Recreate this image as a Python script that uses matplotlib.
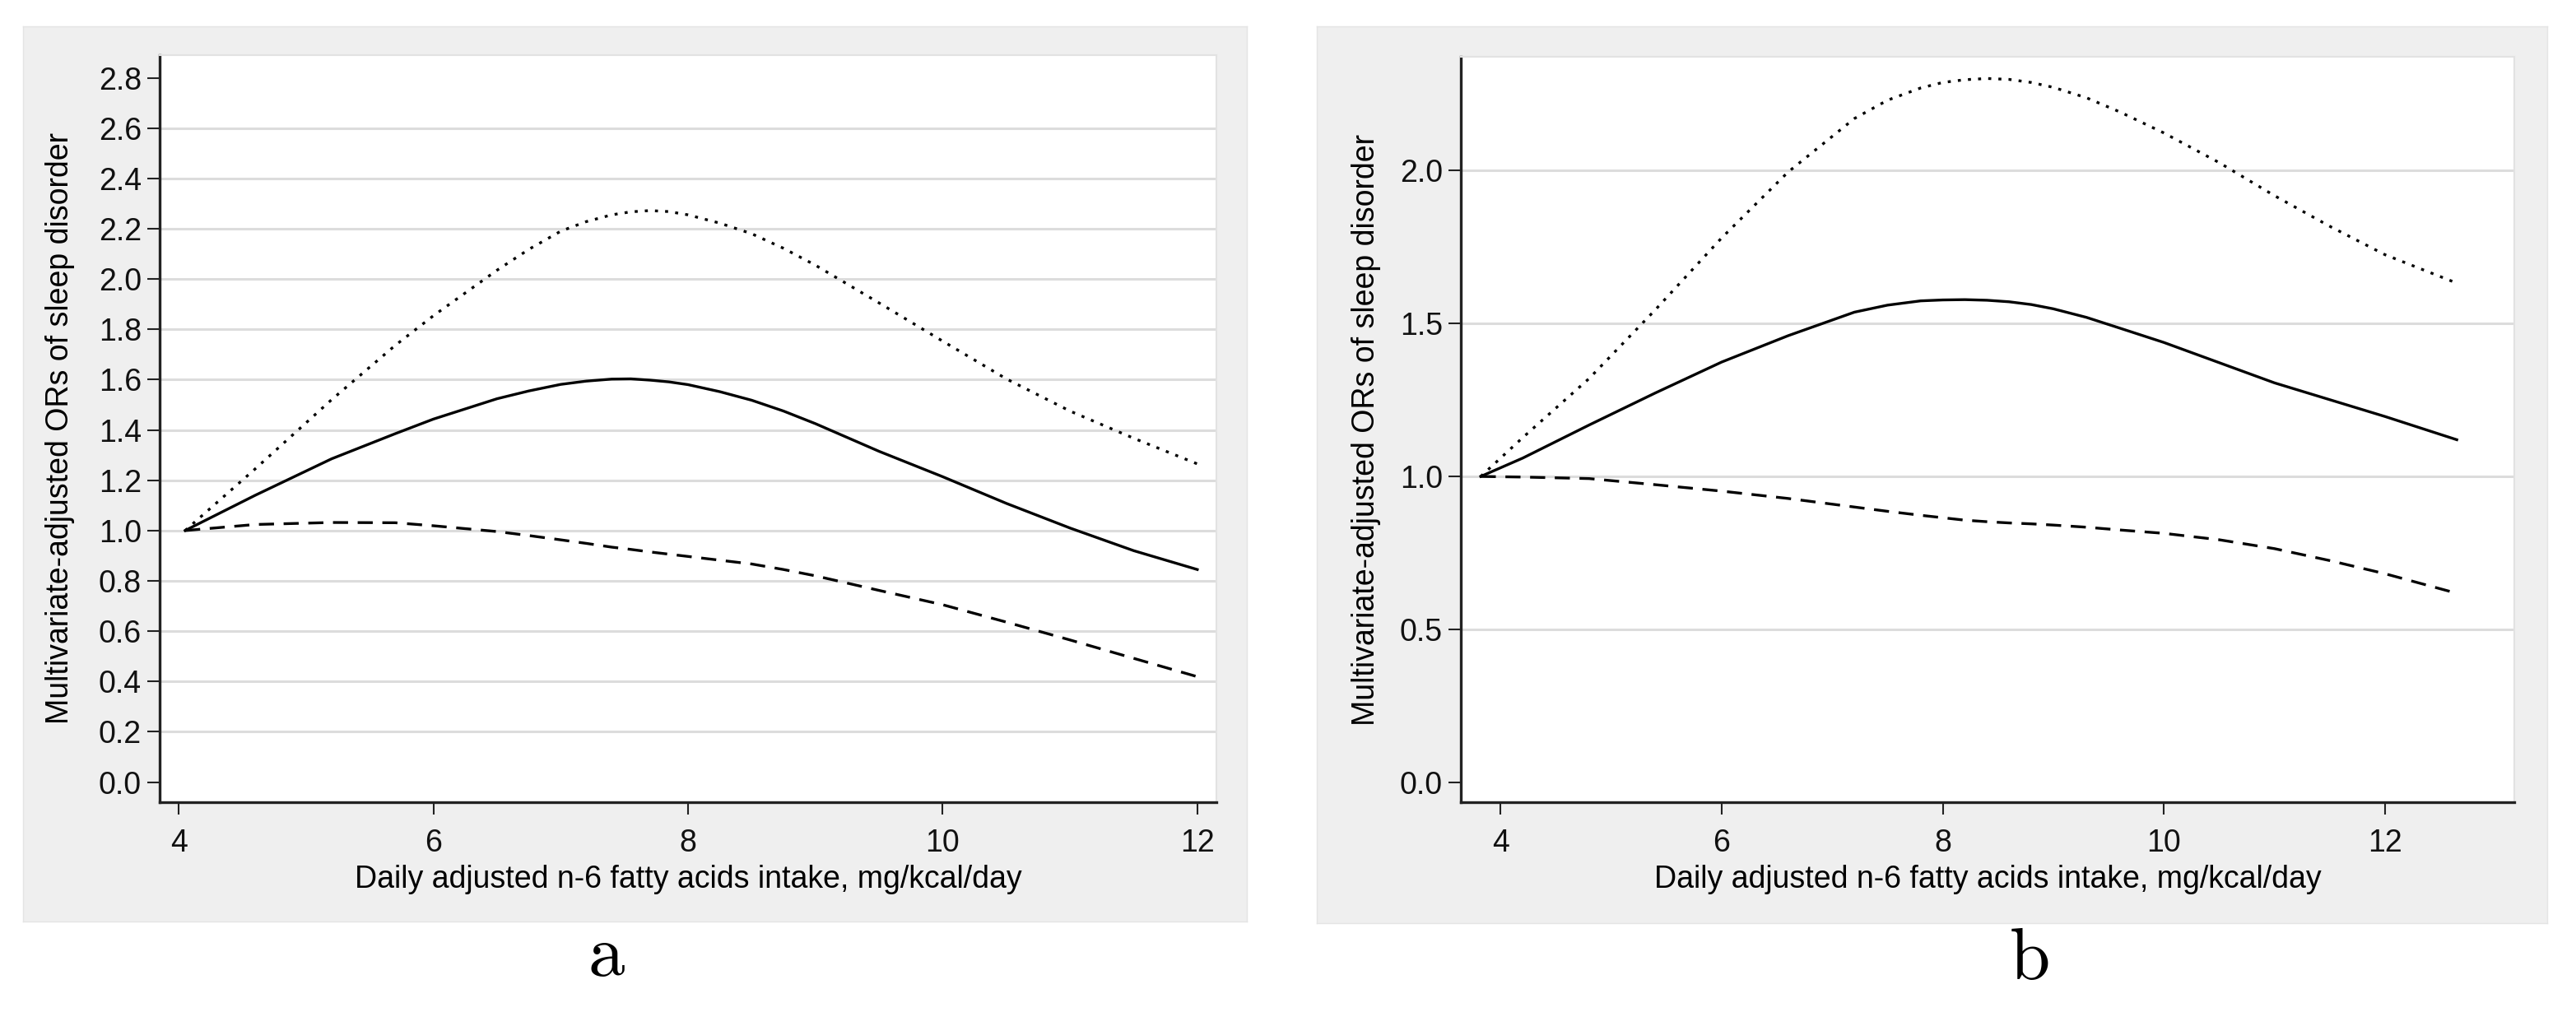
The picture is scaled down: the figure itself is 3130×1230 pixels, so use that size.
import matplotlib
matplotlib.use('Agg')
import matplotlib.pyplot as plt

# ── Data ─────────────────────────────────────────────────────────────────────
# panel a
A_X      = [4.05, 4.6, 5.2, 5.7, 6.0, 6.5, 6.75, 7.0, 7.2, 7.4, 7.55, 7.7, 7.85, 8.0,
            8.25, 8.5, 8.75, 9.0, 9.5, 10.0, 10.5, 11.0, 11.5, 12.0]
A_OR     = [1.000, 1.140, 1.285, 1.385, 1.443, 1.524, 1.555, 1.581, 1.594, 1.602, 1.603, 1.598,
            1.591, 1.580, 1.552, 1.518, 1.475, 1.425, 1.315, 1.214, 1.108, 1.010, 0.920, 0.845]
A_UPPER  = [1.000, 1.245, 1.520, 1.736, 1.854, 2.035, 2.118, 2.190, 2.228, 2.255, 2.267, 2.272,
            2.268, 2.255, 2.222, 2.180, 2.122, 2.055, 1.905, 1.753, 1.603, 1.475, 1.367, 1.265]
A_LOWER  = [1.000, 1.024, 1.032, 1.031, 1.019, 0.996, 0.980, 0.963, 0.949, 0.934, 0.925, 0.915,
            0.906, 0.897, 0.882, 0.867, 0.845, 0.820, 0.762, 0.705, 0.636, 0.565, 0.492, 0.419]

# panel b
B_X      = [3.82, 4.2, 4.8, 5.4, 6.0, 6.6, 7.2, 7.5, 7.8, 8.0, 8.2, 8.4, 8.6, 8.8, 9.0,
            9.3, 9.6, 10.0, 10.5, 11.0, 11.5, 12.0, 12.65]
B_OR     = [1.000, 1.060, 1.168, 1.273, 1.374, 1.460, 1.537, 1.560, 1.574, 1.577, 1.578, 1.576,
            1.571, 1.562, 1.548, 1.520, 1.485, 1.438, 1.372, 1.306, 1.251, 1.196, 1.120]
B_UPPER  = [1.000, 1.127, 1.320, 1.545, 1.780, 1.995, 2.170, 2.230, 2.270, 2.288, 2.297, 2.301,
            2.298, 2.288, 2.272, 2.238, 2.192, 2.123, 2.026, 1.918, 1.818, 1.725, 1.632]
B_LOWER  = [1.000, 0.998, 0.993, 0.973, 0.952, 0.928, 0.900, 0.886, 0.873, 0.865, 0.857, 0.852,
            0.848, 0.845, 0.841, 0.834, 0.825, 0.814, 0.793, 0.764, 0.725, 0.682, 0.618]

A_YTICKS = [0.0, 0.2, 0.4, 0.6, 0.8, 1.0, 1.2, 1.4, 1.6, 1.8, 2.0, 2.2, 2.4, 2.6, 2.8]
A_GRID   = A_YTICKS[1:-1]
B_YTICKS = [0.0, 0.5, 1.0, 1.5, 2.0]
B_GRID   = B_YTICKS[1:]
XTICKS   = [4, 6, 8, 10, 12]

XLABEL = 'Daily adjusted n-6 fatty acids intake, mg/kcal/day'
YLABEL = 'Multivariate-adjusted ORs of sleep disorder'

plt.rcParams['font.family'] = ['Liberation Sans', 'DejaVu Sans']
plt.rcParams['mathtext.fontset'] = 'cm'

W, H = 3130, 1230
fig = plt.figure(figsize=(W / 100, H / 100), dpi=100)
fig.patch.set_facecolor('white')

BG = '#efefef'


def px_box(x0, y0, x1, y1):
    """pixel box (top-left origin) -> figure fraction [l, b, w, h]"""
    return [x0 / W, 1 - y1 / H, (x1 - x0) / W, (y1 - y0) / H]


def draw_panel(box, axbox, xs, est, up, lo, xlim, ylim, yticks, grid, fmt, ylab_x):
    # grey graph region drawn as a bare axes behind the plot axes
    bg = fig.add_axes(px_box(*box), zorder=-5)
    bg.set_facecolor(BG)
    bg.set_xticks([])
    bg.set_yticks([])
    for s in bg.spines.values():
        s.set_color('#e4e4e4')
        s.set_linewidth(1.0)

    ax = fig.add_axes(px_box(*axbox), zorder=1)
    ax.set_facecolor('white')

    for g in grid:
        ax.axhline(g, color='#dcdcdc', lw=2.2, zorder=1)

    ax.plot(xs, up, color='black', lw=2.4, ls=(0, (1.1, 2.6)), zorder=3)
    ax.plot(xs, est, color='black', lw=2.4, ls='-', zorder=3)
    ax.plot(xs, lo, color='black', lw=2.4, ls=(0, (5.5, 3.5)), zorder=3)

    ax.set_xlim(*xlim)
    ax.set_ylim(*ylim)
    ax.set_xticks(XTICKS)
    ax.set_yticks(yticks)
    ax.set_yticklabels([fmt.format(v) for v in yticks])
    ax.tick_params(axis='both', direction='out', length=11, width=1.5,
                   color='#222222', labelsize=27, labelcolor='#111111')
    ax.tick_params(axis='y', pad=5)
    ax.tick_params(axis='x', pad=12)

    for side in ('left', 'bottom'):
        ax.spines[side].set_color('#222222')
        ax.spines[side].set_linewidth(2.4)
    for side in ('top', 'right'):
        ax.spines[side].set_color('#e2e2e2')
        ax.spines[side].set_linewidth(1.5)

    ax.set_xlabel(XLABEL, fontsize=27, labelpad=6)
    ax.set_ylabel(YLABEL, fontsize=27)
    ax.yaxis.set_label_coords(ylab_x, 0.5)
    return ax


draw_panel((28, 32, 1515, 1120), (194, 67, 1478, 975),
           A_X, A_OR, A_UPPER, A_LOWER,
           (3.85, 12.15), (-0.08, 2.89), A_YTICKS, A_GRID, '{:.1f}', -0.080)

draw_panel((1600, 32, 3095, 1122), (1775, 69, 3055, 975),
           B_X, B_OR, B_UPPER, B_LOWER,
           (3.64, 13.17), (-0.065, 2.372), B_YTICKS, B_GRID, '{:.1f}', -0.076)

fig.text(737 / W, 1 - 1186 / H, r'$\mathrm{a}$', fontsize=64, ha='center', va='baseline')
fig.text(2465 / W, 1 - 1190 / H, r'$\mathrm{b}$', fontsize=64, ha='center', va='baseline')

fig.savefig('out.png', dpi=100)
